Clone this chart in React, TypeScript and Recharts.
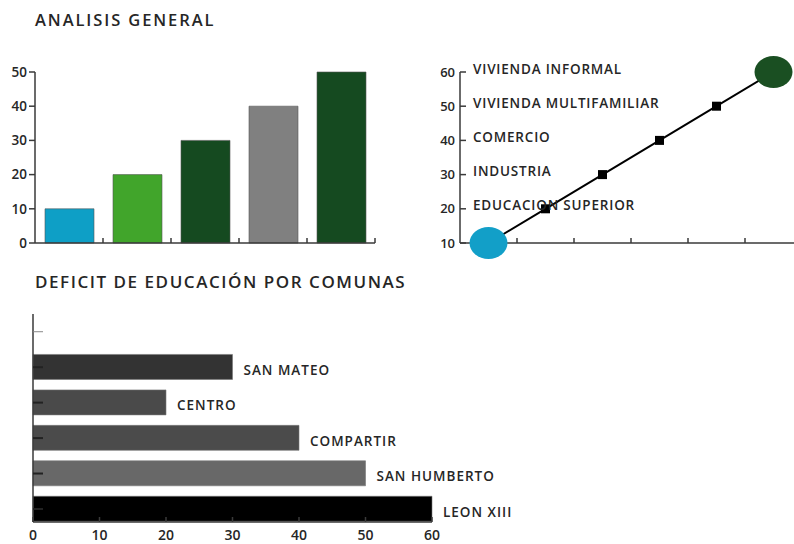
import React from "react";
import {
	Bar,
	BarChart,
	Cell,
	LabelList,
	Line,
	LineChart,
	XAxis,
	YAxis,
} from "recharts";

// ANALISIS GENERAL (bars)
const generalCategories = ["1", "2", "3", "4", "5"];
const generalValues = [10, 20, 30, 40, 50];
const generalColors = ["#0e9fc6", "#41a52b", "#154a20", "#808080", "#154a20"];
const generalTicks = [0, 10, 20, 30, 40, 50];

// usos del suelo (line)
const usoCategories = ["1", "2", "3", "4", "5", "6"];
const usoValues = [10, 20, 30, 40, 50, 60];
const usoTicks = [10, 20, 30, 40, 50, 60];
const usoLabels = [
	"",
	"EDUCACION SUPERIOR",
	"INDUSTRIA",
	"COMERCIO",
	"VIVIENDA MULTIFAMILIAR",
	"VIVIENDA INFORMAL",
];

// DEFICIT DE EDUCACIÓN POR COMUNAS (horizontal bars)
const comunas = ["", "SAN MATEO", "CENTRO", "COMPARTIR", "SAN HUMBERTO", "LEON XIII"];
const deficitValues = [null, 30, 20, 40, 50, 60];
const deficitColors = ["#ffffff", "#333333", "#4a4a4a", "#4b4b4b", "#686868", "#000000"];
const deficitTicks = [0, 10, 20, 30, 40, 50, 60];

const FONT = "'Open Sans', 'DejaVu Sans', sans-serif";
const INK = "#262626";
const AXIS = "#3a3a3a";
const W = 600;

const generalData = generalCategories.map((c, i) => ({ cat: c, value: generalValues[i] }));
const usoData = usoCategories.map((c, i) => ({ cat: c, value: usoValues[i] }));
const deficitData = comunas.map((c, i) => ({ name: c, value: deficitValues[i] }));

const titleStyle: React.CSSProperties = {
	position: "absolute",
	left: 35,
	fontFamily: FONT,
	fontWeight: W,
	fontSize: 16.5,
	letterSpacing: 1.9,
	color: INK,
	lineHeight: 1,
	whiteSpace: "nowrap",
};

// tick at the right edge of each band, pointing up
function bandEdgeTick(bandWidth: number) {
	return (props: any) => {
		const { x, y } = props;
		const ex = x + bandWidth / 2;
		return <line x1={ex} x2={ex} y1={y} y2={y - 5} stroke={AXIS} strokeWidth={1.5} />;
	};
}

function UsoYTick(props: any) {
	const { x, y, payload } = props;
	const idx = usoValues.indexOf(payload.value);
	const label = idx >= 0 ? usoLabels[idx] : "";
	return (
		<g>
			<line x1={x} x2={x + 6} y1={y} y2={y} stroke={AXIS} strokeWidth={1.5} />
			<text
				x={x - 5}
				y={y + 4.5}
				textAnchor="end"
				fontFamily={FONT}
				fontWeight={W}
				fontSize={13}
				fill={INK}
			>
				{payload.value}
			</text>
			{label && (
				<text
					x={x + 13}
					y={y + 1.5}
					fontFamily={FONT}
					fontWeight={W}
					fontSize={13.5}
					fill={INK}
					letterSpacing={0.8}
				>
					{label}
				</text>
			)}
		</g>
	);
}

function UsoDot(props: any) {
	const { cx, cy, index } = props;
	if (index === 0) {
		return <ellipse key={index} cx={cx} cy={cy} rx={19} ry={16} fill="#129fc8" />;
	}
	if (index === usoValues.length - 1) {
		return <ellipse key={index} cx={cx} cy={cy} rx={19} ry={16} fill="#1a4f22" />;
	}
	return <rect key={index} x={cx - 4.5} y={cy - 4.5} width={9} height={9} fill="#000" />;
}

function DeficitXTick(props: any) {
	const { x, y, payload } = props;
	return (
		<g>
			<line x1={x} x2={x} y1={y} y2={y - 5} stroke={AXIS} strokeWidth={1.5} />
			<text
				x={x}
				y={y + 18}
				textAnchor="middle"
				fontFamily={FONT}
				fontWeight={W}
				fontSize={14}
				fill={INK}
			>
				{payload.value}
			</text>
		</g>
	);
}

function DeficitYTick(props: any) {
	const { x, y, index } = props;
	return (
		<line
			x1={x}
			x2={x + 10}
			y1={y}
			y2={y}
			stroke={index === 0 ? "#888" : "#222"}
			strokeWidth={index === 0 ? 1 : 2}
		/>
	);
}

function DeficitLabel(props: any) {
	const { x, y, width, height, value } = props;
	if (!value) return null;
	return (
		<text
			x={x + width + 11}
			y={y + height / 2 + 8}
			fontFamily={FONT}
			fontWeight={W}
			fontSize={13.5}
			fill={INK}
			letterSpacing={1}
		>
			{value}
		</text>
	);
}

export default function App() {
	return (
		<div
			style={{
				position: "absolute",
				left: 0,
				top: 0,
				width: 794,
				height: 544,
				overflow: "hidden",
				background: "#fff",
			}}
		>
			<div style={{ ...titleStyle, top: 12 }}>ANALISIS GENERAL</div>
			<div style={{ ...titleStyle, top: 273, fontSize: 17, letterSpacing: 1.55 }}>
				DEFICIT DE EDUCACIÓN POR COMUNAS
			</div>

			<div style={{ position: "absolute", left: 0, top: 0 }}>
				<BarChart
					width={400}
					height={260}
					data={generalData}
					margin={{ top: 72, right: 25, left: 0, bottom: 7 }}
				>
					<XAxis
						dataKey="cat"
						height={10}
						axisLine={{ stroke: AXIS, strokeWidth: 1.5 }}
						tickLine={false}
						tickSize={0}
						tickMargin={0}
						tick={bandEdgeTick(340 / generalCategories.length)}
						interval={0}
					/>
					<YAxis
						width={35}
						domain={[0, 50]}
						ticks={generalTicks}
						axisLine={{ stroke: AXIS, strokeWidth: 1.5 }}
						tickLine={{ stroke: AXIS, strokeWidth: 1.5 }}
						tickSize={6}
						tick={{ fontFamily: FONT, fontWeight: W, fontSize: 13.5, fill: INK }}
					/>
					<Bar dataKey="value" barSize={49} isAnimationActive={false} stroke="#555" strokeWidth={0.6}>
						{generalData.map((d, i) => (
							<Cell key={d.cat} fill={generalColors[i]} />
						))}
					</Bar>
				</BarChart>
			</div>

			<div style={{ position: "absolute", left: 400, top: 0 }}>
				<LineChart
					width={402}
					height={260}
					data={usoData}
					margin={{ top: 72, right: 0, left: 0, bottom: 7 }}
				>
					<XAxis
						dataKey="cat"
						scale="band"
						height={10}
						axisLine={{ stroke: AXIS, strokeWidth: 1.5 }}
						tickLine={false}
						tickSize={0}
						tickMargin={0}
						tick={bandEdgeTick(342 / usoCategories.length)}
						interval={0}
					/>
					<YAxis
						width={60}
						domain={[10, 60]}
						ticks={usoTicks}
						axisLine={{ stroke: AXIS, strokeWidth: 1.5 }}
						tickLine={false}
						tickSize={0}
						tickMargin={0}
						tick={UsoYTick}
						interval={0}
					/>
					<Line
						dataKey="value"
						stroke="#000"
						strokeWidth={2}
						dot={UsoDot}
						isAnimationActive={false}
					/>
				</LineChart>
			</div>

			<div style={{ position: "absolute", left: 0, top: 260 }}>
				<BarChart
					layout="vertical"
					width={520}
					height={284}
					data={deficitData}
					margin={{ top: 54, right: 88, left: 0, bottom: 0 }}
				>
					<XAxis
						type="number"
						domain={[0, 60]}
						ticks={deficitTicks}
						height={22}
						axisLine={{ stroke: AXIS, strokeWidth: 1.5 }}
						tickLine={false}
						tickSize={0}
						tickMargin={0}
						tick={DeficitXTick}
						interval={0}
					/>
					<YAxis
						type="category"
						dataKey="name"
						width={33}
						padding={{ top: 0, bottom: -4.7 }}
						axisLine={{ stroke: AXIS, strokeWidth: 1.5 }}
						tickLine={false}
						tickSize={0}
						tickMargin={0}
						tick={DeficitYTick}
						interval={0}
					/>
					<Bar dataKey="value" barSize={25} isAnimationActive={false} stroke="#777" strokeWidth={0.6}>
						{deficitData.map((d, i) => (
							<Cell key={i} fill={deficitColors[i]} />
						))}
						<LabelList dataKey="name" content={DeficitLabel} />
					</Bar>
				</BarChart>
			</div>
		</div>
	);
}
